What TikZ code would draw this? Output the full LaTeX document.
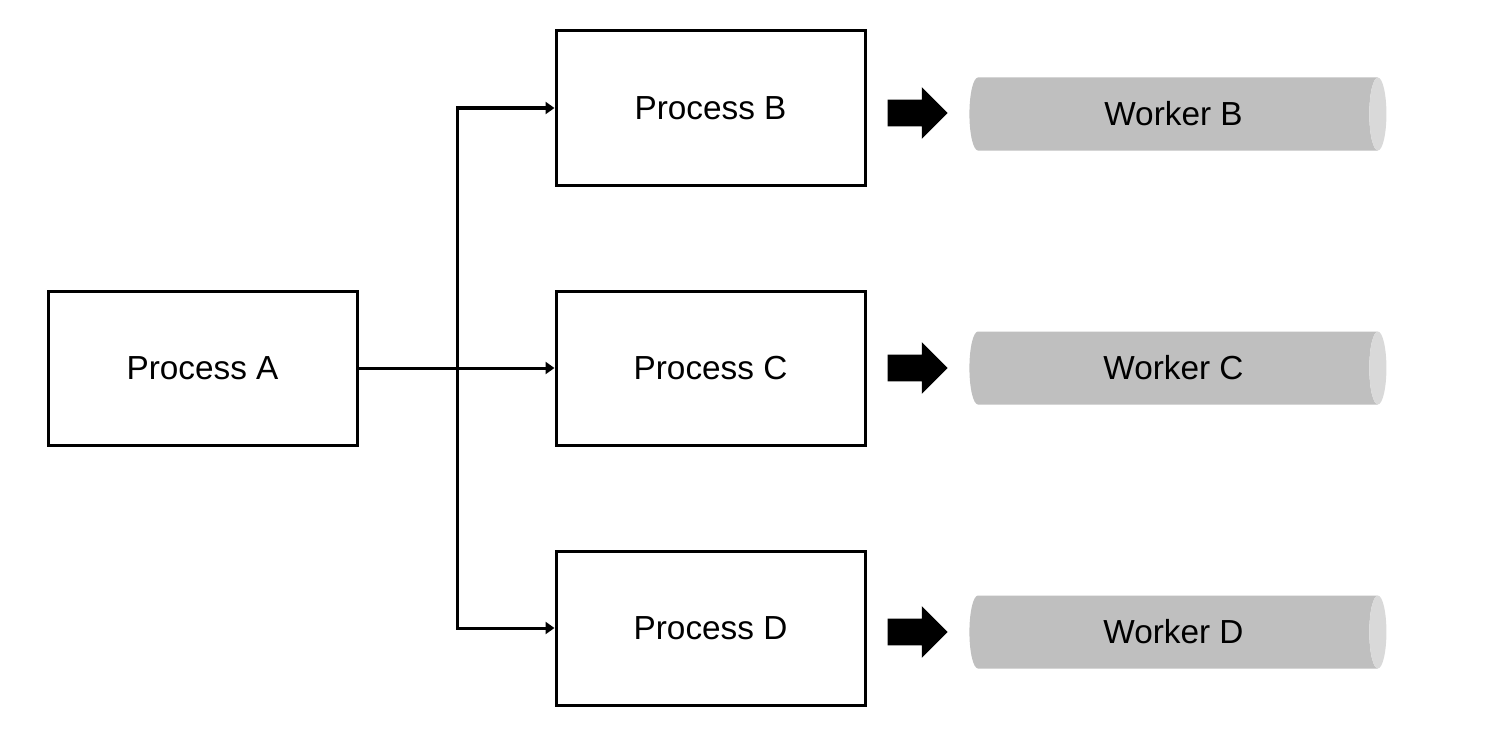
\documentclass[tikz,border=0pt]{standalone}
\usepackage{fontspec}
\setmainfont{Liberation Sans}
\usetikzlibrary{shapes.geometric,shapes.arrows,arrows.meta}
\begin{document}
\begin{tikzpicture}[x=0.75pt,y=-0.75pt,
  procbox/.style={draw=black,line width=2.25pt,fill=white,minimum width=231.75pt,minimum height=115.5pt,inner sep=0pt,font=\fontsize{25}{30}\selectfont},
  conn/.style={line width=2.25pt,-{Triangle[length=6.75pt,width=9pt]}},
  worker/.style={cylinder,shape aspect=0.7,minimum height=312.75pt,minimum width=54.75pt,inner sep=0pt,
    cylinder uses custom fill,cylinder body fill=gray75,cylinder end fill=gray85,font=\fontsize{25}{30}\selectfont},
  blockarrow/.style={single arrow,fill=black,draw=none,minimum height=45pt,inner xsep=0pt,inner ysep=9.75pt,single arrow head extend=9.4pt}
]
\definecolor{gray75}{HTML}{BFBFBF}
\definecolor{gray85}{HTML}{D9D9D9}
\useasboundingbox (0,0) rectangle (1492,735);
\node[procbox] (A) at (202.5,368) {Process A};
\node[procbox] (B) at (710.5,108) {Process B};
\node[procbox] (C) at (710.5,368) {Process C};
\node[procbox] (D) at (710.5,628) {Process D};
\coordinate (j) at (457,368);
\draw[conn] (A.east) -- (C.west);
\draw[conn] (j) |- (B.west);
\draw[conn] (j) |- (D.west);
\node[blockarrow] (aB) at (911,113) {};
\node[blockarrow] (aC) at (911,368) {};
\node[blockarrow] (aD) at (911,632) {};
\node[worker] (wB) at (1173.5,114) {Worker B};
\node[worker] (wC) at (1173.5,368) {Worker C};
\node[worker] (wD) at (1173.5,632) {Worker D};
\end{tikzpicture}
\end{document}
